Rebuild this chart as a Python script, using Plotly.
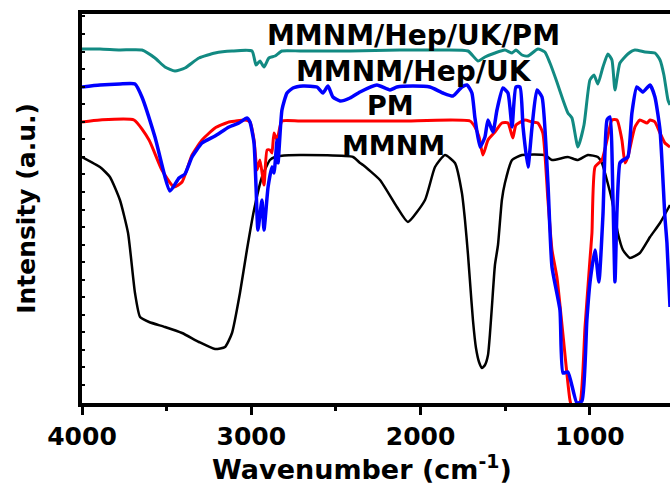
import plotly.graph_objects as go

# ---- data (wavenumber in cm^-1, intensity in arbitrary units) ----
wn_pm_mix = [4000, 3894, 3776, 3646, 3569, 3510, 3451, 3392, 3309, 3214, 3114, 2996, 2972, 2949, 2925,
             2896, 2860, 2819, 2712, 2417, 2122, 1886, 1720, 1661, 1620, 1561, 1502, 1460, 1437, 1401,
             1366, 1307, 1266, 1236, 1195, 1159, 1130, 1106, 1071, 1035, 1000, 976, 953, 923, 894, 870,
             852, 823, 776, 734, 675, 616, 586, 563, 539, 527]
int_pm_mix = [354, 354, 353, 353, 345, 336, 332, 335, 345, 350, 352, 352, 338, 342, 336,
              345, 347, 352, 352, 352, 353, 353, 352, 342, 346, 350, 353, 350, 353, 348,
              347, 354, 351, 340, 321, 303, 290, 285, 256, 278, 323, 328, 319, 336, 349, 343,
              313, 340, 349, 353, 351, 350, 343, 328, 303, 298]

wn_uk = [4000, 3894, 3776, 3687, 3646, 3569, 3480, 3427, 3392, 3350, 3291, 3214, 3132, 3073, 3026, 3008,
         2984, 2972, 2961, 2937, 2925, 2901, 2878, 2866, 2848, 2842, 2819, 2789, 2754, 2695, 2612, 2577,
         2547, 2518, 2476, 2417, 2358, 2258, 2181, 2140, 2045, 1945, 1868, 1809, 1756, 1726, 1697, 1679,
         1649, 1620, 1602, 1573, 1549, 1514, 1484, 1460, 1437, 1413, 1395, 1366, 1342, 1313, 1283, 1248,
         1224, 1177, 1159, 1130, 1077, 1047, 1018, 1000, 970, 947, 923, 899, 882, 864, 852, 840, 823,
         805, 776, 752, 723, 687, 645, 616, 586, 557, 545, 527]
int_uk = [316, 318, 319, 319, 306, 266, 212, 225, 229, 246, 260, 267, 276, 280, 285, 281,
          260, 216, 173, 203, 173, 216, 236, 230, 263, 240, 293, 310, 315, 317, 316, 310,
          317, 306, 302, 305, 311, 318, 313, 316, 317, 316, 310, 307, 316, 318, 310, 285,
          256, 266, 283, 271, 293, 315, 310, 276, 316, 316, 276, 236, 276, 313, 306, 220,
          136, 93, 30, 31, 0, 2, 83, 120, 153, 121, 188, 283, 286, 206, 121, 193, 240,
          243, 246, 290, 316, 311, 318, 306, 273, 186, 160, 96]

wn_pm = [4000, 3894, 3693, 3604, 3528, 3457, 3409, 3350, 3291, 3214, 3132, 3037, 3008, 2984, 2966,
         2949, 2925, 2907, 2890, 2878, 2866, 2848, 2831, 2819, 2712, 2122, 1709, 1679, 1655, 1632,
         1602, 1561, 1520, 1484, 1455, 1437, 1384, 1342, 1307, 1278, 1248, 1224, 1195, 1159, 1118,
         1100, 1059, 1029, 1000, 988, 970, 929, 899, 870, 840, 811, 793, 776, 734, 705, 663, 645,
         616, 586, 557, 527]
int_pm = [281, 283, 283, 263, 233, 216, 221, 248, 263, 275, 281, 283, 281, 263, 233,
          243, 218, 253, 253, 250, 270, 263, 276, 282, 282, 282, 282, 276, 266, 248,
          263, 271, 280, 280, 265, 278, 283, 281, 280, 270, 203, 153, 126, 68, 3,
          -7, 0, 76, 143, 170, 236, 243, 263, 283, 283, 263, 240, 246, 276, 283, 280, 283,
          281, 270, 260, 256]

wn_mmnm = [4000, 3894, 3835, 3776, 3728, 3687, 3657, 3604, 3510, 3409, 3309, 3214, 3155, 3114, 3067,
           3026, 2984, 2937, 2890, 2860, 2831, 2712, 2399, 2358, 2340, 2240, 2140, 2075, 1974, 1915,
           1856, 1797, 1756, 1738, 1720, 1709, 1691, 1673, 1655, 1638, 1620, 1602, 1591, 1579, 1561,
           1543, 1520, 1502, 1460, 1401, 1266, 1224, 1130, 1071, 1012, 953, 929, 870, 835, 805, 764,
           705, 645, 586, 527]
int_mmnm = [246, 236, 226, 203, 170, 110, 86, 81, 76, 70, 61, 54, 56, 70, 110,
            153, 193, 226, 243, 246, 247, 248, 246, 240, 238, 223, 196, 181, 203, 236,
            248, 240, 210, 183, 148, 123, 83, 55, 41, 35, 38, 48, 68, 96, 138,
            158, 203, 220, 243, 248, 248, 243, 246, 243, 248, 246, 240, 203, 170, 153, 145,
            150, 166, 180, 198]

series = [
    ("MMNM", wn_mmnm, int_mmnm, "#000000", 2.5),
    ("PM", wn_pm, int_pm, "#ff0000", 3),
    ("MMNM/Hep/UK", wn_uk, int_uk, "#0000ff", 3.5),
    ("MMNM/Hep/UK/PM", wn_pm_mix, int_pm_mix, "#128a82", 3),
]

labels = ["MMNM/Hep/UK/PM", "MMNM/Hep/UK", "PM", "MMNM"]
label_x = [2040, 2039, 2175, 2160]
label_y = [368, 332, 298, 258]
label_size = [28, 28, 27, 27]

FONT = "DejaVu Sans"

fig = go.Figure()
for name, x, y, color, w in series:
    fig.add_trace(go.Scatter(x=x, y=y, mode="lines", name=name,
                             line=dict(color=color, width=w, shape="spline", smoothing=0.5),
                             hoverinfo="skip", showlegend=False))

for t, lx, ly, s in zip(labels, label_x, label_y, label_size):
    fig.add_annotation(x=lx, y=ly, text="<b>%s</b>" % t, showarrow=False,
                       font=dict(family=FONT, size=s, color="black"),
                       xanchor="center", yanchor="middle")

# x-axis title (slightly left of the plot centre, as in the reference)
fig.add_annotation(xref="paper", yref="paper", x=0.476, y=-0.165,
                   text="<b>Wavenumber (cm<sup>-1</sup>)</b>", showarrow=False,
                   font=dict(family=FONT, size=27, color="black"),
                   xanchor="center", yanchor="middle")

fig.update_layout(
    width=670, height=487,
    margin=dict(l=82, r=0, t=14, b=84),
    paper_bgcolor="white", plot_bgcolor="white",
    font=dict(family=FONT, color="black"),
)
fig.update_xaxes(
    range=[4000, 527], showgrid=False, zeroline=False,
    showline=True, linecolor="black", linewidth=4, mirror=True,
    tickmode="linear", tick0=0, dtick=1000,
    ticks="outside", ticklen=8, tickwidth=3, tickcolor="black",
    minor=dict(dtick=500, tick0=0, ticks="outside", ticklen=4, tickwidth=3, tickcolor="black"),
    tickfont=dict(family=FONT, size=25, color="black", weight="bold"),
    automargin=False,
)
fig.update_yaxes(
    range=[0, 389], showgrid=False, zeroline=False,
    showline=True, linecolor="black", linewidth=4,
    showticklabels=False, tickmode="linear", tick0=18, dtick=17.55,
    ticks="inside", ticklen=3, tickwidth=2, tickcolor="black",
    title=dict(text="<b>Intensity (a.u.)</b>", font=dict(family=FONT, size=25, color="black"),
               standoff=36),
    automargin=False,
)

fig.write_html("out.html")
